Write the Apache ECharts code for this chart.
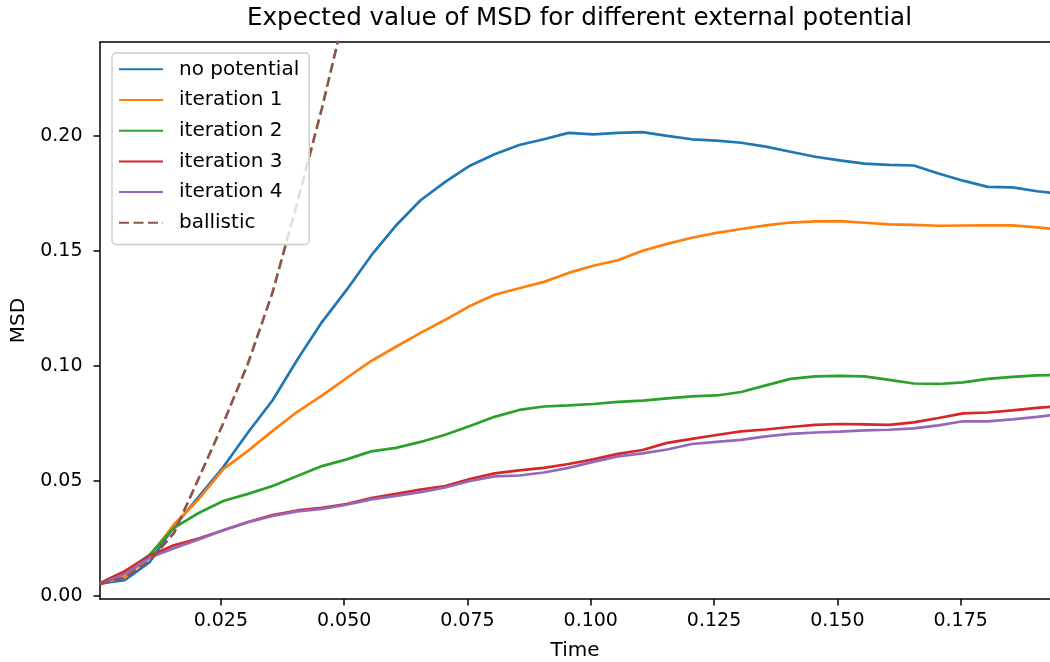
<!DOCTYPE html>
<html>
<head>
<meta charset="utf-8">
<script src="https://cdn.jsdelivr.net/npm/echarts@6/dist/echarts.min.js"></script>
<style>html,body{margin:0;padding:0;background:#fff;}#chart{width:1050px;height:662px;}</style>
</head>
<body>
<div id="chart"></div>
<script>
var timeValues = [0.0005,0.0055,0.0105,0.0155,0.0205,0.0255,0.0305,0.0355,0.0405,0.0455,
  0.0505,0.0555,0.0605,0.0655,0.0705,0.0755,0.0805,0.0855,0.0905,0.0955,
  0.1005,0.1055,0.1105,0.1155,0.1205,0.1255,0.1305,0.1355,0.1405,0.1455,
  0.1505,0.1555,0.1605,0.1655,0.1705,0.1755,0.1805,0.1855,0.1905,0.1955];
var noPotential = [0.0054,0.0068,0.0145,0.030,0.043,0.056,0.071,0.085,0.1026,0.119,
  0.133,0.148,0.161,0.172,0.180,0.187,0.192,0.196,0.1985,0.2013,
  0.2006,0.2013,0.2016,0.200,0.1985,0.1979,0.1970,0.1953,0.1931,0.1909,
  0.1893,0.1879,0.1874,0.1871,0.1836,0.1805,0.1778,0.1776,0.1759,0.1748];
var iteration1 = [0.0055,0.008,0.017,0.031,0.042,0.0551,0.063,0.0717,0.080,0.087,
  0.0947,0.1021,0.1083,0.1143,0.120,0.126,0.1309,0.1337,0.1365,0.1404,
  0.1435,0.1459,0.150,0.153,0.1557,0.1578,0.1595,0.1611,0.1623,0.1628,
  0.1629,0.1622,0.1615,0.1613,0.1609,0.1610,0.1611,0.1611,0.1602,0.1591];
var iteration2 = [0.0055,0.0103,0.0177,0.0295,0.036,0.0412,0.0443,0.0477,0.0521,0.0564,
  0.0593,0.0628,0.0643,0.0669,0.070,0.0738,0.0778,0.0808,0.0823,0.0828,
  0.0834,0.0843,0.0849,0.0858,0.0867,0.0871,0.0886,0.0915,0.0943,0.0954,
  0.0956,0.0954,0.0939,0.0923,0.0921,0.0928,0.0943,0.0952,0.0958,0.096];
var iteration3 = [0.0055,0.0107,0.0173,0.022,0.0249,0.0285,0.0321,0.0351,0.0371,0.0382,
  0.0399,0.0425,0.0443,0.0462,0.0477,0.0508,0.0532,0.0545,0.0556,0.0573,
  0.0593,0.0617,0.0634,0.0665,0.0682,0.0699,0.0715,0.0723,0.0734,0.0743,
  0.0747,0.0745,0.0743,0.0754,0.0773,0.0793,0.0797,0.0806,0.0817,0.0826];
var iteration4 = [0.005,0.0095,0.0165,0.0207,0.0245,0.0285,0.032,0.0347,0.0367,0.0378,
  0.0396,0.0419,0.0434,0.0451,0.0471,0.0499,0.0519,0.0523,0.0536,0.0556,
  0.0582,0.0606,0.0619,0.0636,0.066,0.0669,0.0678,0.0693,0.0704,0.071,
  0.0714,0.0719,0.0722,0.0728,0.0741,0.0759,0.0758,0.0767,0.0778,0.079];
var ballisticTime = [0.0005,0.0055,0.0105,0.0155,0.0205,0.0255,0.0305,0.0355,0.0405,0.0455,0.0505,0.0555];
var ballistic = [0.005,0.008,0.015,0.0273,0.051,0.075,0.101,0.132,0.171,0.212,0.257,0.305];
var xTicks = [0.025,0.050,0.075,0.100,0.125,0.150,0.175];
var yTicks = [0.00,0.05,0.10,0.15,0.20];

var seriesNames = ['no potential','iteration 1','iteration 2','iteration 3','iteration 4','ballistic'];
var seriesColors = ['#1f77b4','#ff7f0e','#2ca02c','#d62728','#9467bd','#8c564b'];
var seriesValues = [noPotential, iteration1, iteration2, iteration3, iteration4, ballistic];

function pairs(xs, ys){ return ys.map(function(v,i){ return [xs[i], v]; }); }

var FONT = 'DejaVu Sans';
var X_MIN = 0.0005, X_MAX = 0.0005 + 950/4932;
var series = seriesValues.map(function(vals, i){
  var isBall = i === 5;
  return {
    name: seriesNames[i],
    type: 'line',
    data: pairs(isBall ? ballisticTime : timeValues, vals),
    showSymbol: false,
    symbol: 'none',
    smooth: false,
    clip: true,
    color: seriesColors[i],
    lineStyle: { width: 2.7, color: seriesColors[i], type: isBall ? [10, 4.5] : 'solid' },
    emphasis: { disabled: true }
  };
});

var chart = echarts.init(document.getElementById('chart'), null, {renderer: 'canvas'});
chart.setOption({
  animation: false,
  backgroundColor: '#fff',
  textStyle: { fontFamily: FONT },
  title: {
    text: 'Expected value of MSD for different external potential',
    left: 247, top: 6, padding: 0,
    textStyle: { fontFamily: FONT, fontSize: 24.6, fontWeight: 'normal', color: '#000' }
  },
  grid: {
    left: 100, top: 42, width: 950, height: 557,
    show: false, containLabel: false, outerBoundsMode: 'none'
  },
  legend: {
    orient: 'vertical',
    left: 112, top: 53,
    data: seriesNames,
    itemWidth: 44, itemHeight: 14,
    itemGap: 10.7,
    padding: [6.3, 10, 11.7, 6],
    backgroundColor: 'rgba(255,255,255,0.8)',
    borderColor: '#cccccc', borderWidth: 1.4, borderRadius: 4,
    itemStyle: { opacity: 0 },
    textStyle: { fontFamily: FONT, fontSize: 20, color: '#000', lineHeight: 20, padding: [0,0,0,11] },
    selectedMode: false
  },
  xAxis: [{
    type: 'value',
    min: X_MIN, max: X_MAX,
    name: 'Time', nameLocation: 'middle', nameGap: 42,
    nameTextStyle: { fontFamily: FONT, fontSize: 20, color: '#000' },
    splitLine: { show: false },
    axisLine: { show: true, onZero: false, lineStyle: { color: '#000', width: 1.5 } },
    axisTick: { show: true, length: 6.5, inside: false, lineStyle: { color: '#000', width: 1.5 }, customValues: xTicks },
    axisLabel: { margin: 13, fontFamily: FONT, fontSize: 19, color: '#000', customValues: xTicks,
      formatter: function(v){ return v.toFixed(3); } }
  }, {
    type: 'value', position: 'top',
    min: X_MIN, max: X_MAX,
    splitLine: { show: false },
    axisLine: { show: true, onZero: false, lineStyle: { color: '#000', width: 1.5 } },
    axisTick: { show: false },
    axisLabel: { show: false }
  }],
  yAxis: {
    type: 'value',
    min: -0.0014, max: 0.2408,
    name: 'MSD', nameLocation: 'middle', nameGap: 59, nameRotate: 90,
    nameTextStyle: { fontFamily: FONT, fontSize: 20, color: '#000' },
    splitLine: { show: false },
    axisLine: { show: true, onZero: false, lineStyle: { color: '#000', width: 1.5 } },
    axisTick: { show: true, length: 6.5, inside: false, lineStyle: { color: '#000', width: 1.5 }, customValues: yTicks },
    axisLabel: { margin: 17.5, fontFamily: FONT, fontSize: 19, color: '#000', customValues: yTicks,
      formatter: function(v){ return v.toFixed(2); } }
  },
  series: series
});
</script>
</body>
</html>
